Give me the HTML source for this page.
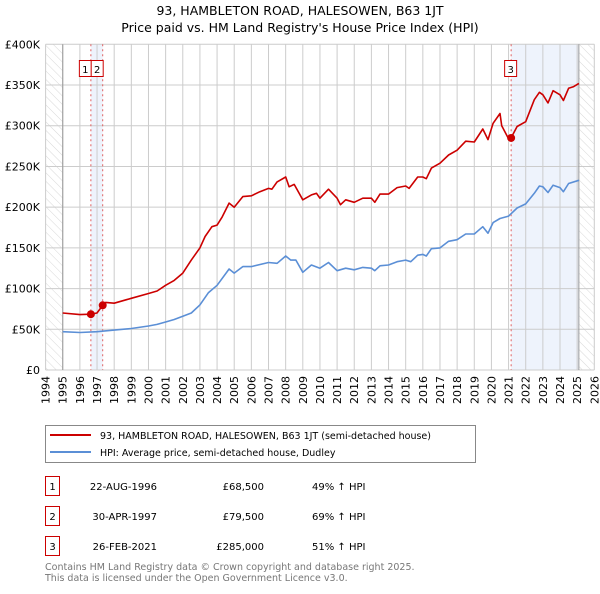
<!DOCTYPE html>
<html><head><meta charset="utf-8"><style>
body{margin:0;background:#fff;font-family:"DejaVu Sans","Liberation Sans",sans-serif;}
svg text{font-family:"DejaVu Sans","Liberation Sans",sans-serif;}
</style></head><body>
<svg id="chart" width="600" height="590" xmlns="http://www.w3.org/2000/svg">
<defs><pattern id="hatch" width="6" height="6" patternUnits="userSpaceOnUse" patternTransform="rotate(-45)"><line x1="0" y1="0" x2="0" y2="6" stroke="#d8d8d8" stroke-width="1"/></pattern></defs>
<text x="300" y="15" text-anchor="middle" font-size="12.5">93, HAMBLETON ROAD, HALESOWEN, B63 1JT</text>
<text x="300" y="32" text-anchor="middle" font-size="12.5">Price paid vs. HM Land Registry's House Price Index (HPI)</text>
<g id="plot"></g>
<g>
<rect x="45.5" y="425.5" width="430" height="37" fill="#fff" stroke="#888"/>
<line x1="50" y1="435" x2="91" y2="435" stroke="#cc0000" stroke-width="2"/>
<text x="100" y="439" font-size="9.5">93, HAMBLETON ROAD, HALESOWEN, B63 1JT (semi-detached house)</text>
<line x1="50" y1="452" x2="91" y2="452" stroke="#5b8fd6" stroke-width="2"/>
<text x="100" y="456" font-size="9.5">HPI: Average price, semi-detached house, Dudley</text>
</g>
<g font-size="10">
<rect x="45.5" y="476.5" width="14" height="19" fill="none" stroke="#cc0000"/><text x="52.5" y="490" text-anchor="middle">1</text>
<text x="157" y="490" text-anchor="end">22-AUG-1996</text><text x="264" y="490" text-anchor="end">£68,500</text><text x="312" y="490">49% ↑ HPI</text>
<rect x="45.5" y="506.5" width="14" height="19" fill="none" stroke="#cc0000"/><text x="52.5" y="520" text-anchor="middle">2</text>
<text x="157" y="520" text-anchor="end">30-APR-1997</text><text x="264" y="520" text-anchor="end">£79,500</text><text x="312" y="520">69% ↑ HPI</text>
<rect x="45.5" y="536.5" width="14" height="19" fill="none" stroke="#cc0000"/><text x="52.5" y="550" text-anchor="middle">3</text>
<text x="157" y="550" text-anchor="end">26-FEB-2021</text><text x="264" y="550" text-anchor="end">£285,000</text><text x="312" y="550">51% ↑ HPI</text>
</g>
<text x="45" y="570" font-size="9.5" fill="#777">Contains HM Land Registry data © Crown copyright and database right 2025.</text>
<text x="45" y="581" font-size="9.5" fill="#777">This data is licensed under the Open Government Licence v3.0.</text>
</svg>
<script>
const yTicks=[0,50,100,150,200,250,300,350,400];
const yTickLabels=["£0","£50K","£100K","£150K","£200K","£250K","£300K","£350K","£400K"];
const xYears=[1994,1995,1996,1997,1998,1999,2000,2001,2002,2003,2004,2005,2006,2007,2008,2009,2010,2011,2012,2013,2014,2015,2016,2017,2018,2019,2020,2021,2022,2023,2024,2025,2026];
const redT=[1995,1996,1996.64,1997,1997.33,1997.5,1998,1999,2000,2000.5,2001,2001.5,2002,2002.5,2003,2003.3,2003.7,2004,2004.3,2004.7,2005,2005.5,2006,2006.5,2007,2007.2,2007.5,2008,2008.2,2008.5,2009,2009.5,2009.8,2010,2010.5,2011,2011.2,2011.5,2012,2012.5,2013,2013.2,2013.5,2014,2014.5,2015,2015.2,2015.7,2016,2016.2,2016.5,2017,2017.5,2018,2018.5,2019,2019.5,2019.8,2020.1,2020.5,2020.6,2020.95,2021.15,2021.5,2022,2022.5,2022.8,2023,2023.3,2023.6,2024,2024.2,2024.5,2024.8,2025.1];
const redV=[70,68,68.5,70,79.5,83,82,88,94,97,104,110,119,135,150,164,176,178,188,205,200,213,214,219,223,222,231,237,225,228,209,215,217,211,222,211,203,209,206,211,211,206,216,216,224,226,223,237,237,235,248,254,264,270,281,280,296,283,303,315,300,286,285,299,305,332,341,338,328,343,338,331,346,348,352];
const blueT=[1995,1996,1997,1998,1999,2000,2000.5,2001,2001.5,2002,2002.5,2003,2003.5,2004,2004.7,2005,2005.5,2006,2007,2007.5,2008,2008.3,2008.6,2009,2009.5,2010,2010.5,2011,2011.5,2012,2012.5,2013,2013.2,2013.5,2014,2014.5,2015,2015.3,2015.7,2016,2016.2,2016.5,2017,2017.5,2018,2018.5,2019,2019.5,2019.8,2020.1,2020.5,2021,2021.5,2022,2022.5,2022.8,2023,2023.3,2023.6,2024,2024.2,2024.5,2025.1];
const blueV=[47,46,47,49,51,54,56,59,62,66,70,80,95,104,124,119,127,127,132,131,140,135,135,120,129,125,132,122,125,123,126,125,122,128,129,133,135,133,141,142,140,149,150,158,160,167,167,176,168,181,186,189,199,204,217,226,225,218,227,224,219,229,233];
const sales=[{n:"1",t:1996.64,v:68.5},{n:"2",t:1997.33,v:79.5},{n:"3",t:2021.15,v:285}];
const X0=45.6,X1=594.3,Y0=370,Y1=44.3;
const xs=t=>X0+(t-1994)/(2026-1994)*(X1-X0);
const ys=v=>Y0-v/400*(Y0-Y1);
const NS="http://www.w3.org/2000/svg";
const g=document.getElementById('plot');
function mk(tag,attrs,parent){const e=document.createElementNS(NS,tag);for(const k in attrs)e.setAttribute(k,attrs[k]);(parent||g).appendChild(e);return e;}
let b=mk('rect',{x:xs(1996.64),y:Y1,width:xs(1997.33)-xs(1996.64),height:Y0-Y1,fill:'#eef3fc'});


b=mk('rect',{x:xs(2021.15),y:Y1,width:xs(2025.1)-xs(2021.15),height:Y0-Y1,fill:'#eef3fc'});


b=mk('rect',{x:X0,y:Y1,width:xs(1995)-X0,height:Y0-Y1,fill:'url(#hatch)'});


b=mk('rect',{x:xs(2025.1),y:Y1,width:X1-xs(2025.1),height:Y0-Y1,fill:'url(#hatch)'});


yTicks.forEach((v,i)=>{
 const l=mk('line',{x1:X0,x2:X1,y1:ys(v),y2:ys(v),stroke:'#ccc'});
 
 
 const t=mk('text',{x:40,y:ys(v)+4,'text-anchor':'end','font-size':'11'});
 t.textContent=yTickLabels[i];
 
 
});
xYears.forEach(yr=>{
 const l=mk('line',{x1:xs(yr),x2:xs(yr),y1:Y1,y2:Y0,stroke:'#ccc'});
 
 
 const x=xs(yr)+4,y=376;
 const t=mk('text',{x:x,y:y,'text-anchor':'end','font-size':'11',transform:`rotate(-90 ${x} ${y})`});
 t.textContent=yr;
 
 
});
[1995,2025.1].forEach(t=>{const l=mk('line',{x1:xs(t),x2:xs(t),y1:Y1,y2:Y0,stroke:'#999'});
 
 });
sales.forEach(s=>{const l=mk('line',{x1:xs(s.t),x2:xs(s.t),y1:Y1,y2:Y0,stroke:'#e06060','stroke-dasharray':'2,3'});
 
 });
function path(T,V,color,name){
 const d=T.map((t,i)=>(i?'L':'M')+xs(t).toFixed(1)+','+ys(V[i]).toFixed(1)).join('');
 const p=mk('path',{d:d,fill:'none',stroke:color,'stroke-width':'1.6','stroke-linejoin':'round'});
 
 
}
path(blueT,blueV,'#5b8fd6','hpi-line');
path(redT,redV,'#cc0000','property-price-line');
sales.forEach((s,i)=>{
 const c=mk('circle',{cx:xs(s.t),cy:ys(s.v),r:4,fill:'#cc0000'});
 
 
 let bx=i===0?xs(s.t)-12:(i===1?xs(s.t)-12:xs(s.t)-7);
 const r=mk('rect',{x:bx+0.5,y:60.5,width:12,height:16,fill:'#fff',stroke:'#cc0000'});
 
 
 const t=mk('text',{x:bx+6.5,y:73,'text-anchor':'middle','font-size':'10'});
 t.textContent=s.n;
 
 
});
</script>
</body></html>
